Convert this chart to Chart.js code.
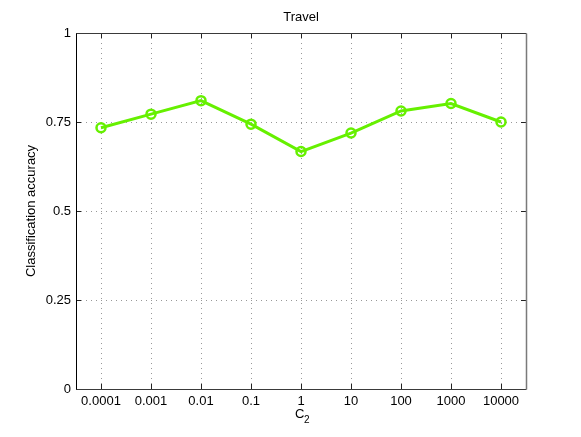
<!DOCTYPE html>
<html>
<head>
<meta charset="utf-8">
<title>Travel</title>
<script src="https://cdn.jsdelivr.net/npm/chart.js@4.4.0/dist/chart.umd.min.js"></script>
<style>
    html, body { margin: 0; padding: 0; background: #fff; }
    #chart { display: block; }
</style>
</head>
<body>
<canvas id="chart" width="581" height="437"></canvas>
<script>
// ========== Data ==========
const categories = ['0.0001', '0.001', '0.01', '0.1', '1', '10', '100', '1000', '10000'];
const accuracy = [0.734, 0.772, 0.810, 0.744, 0.667, 0.719, 0.781, 0.802, 0.750];
const yTicks = [0, 0.25, 0.5, 0.75, 1];
const yTickLabels = ['0', '0.25', '0.5', '0.75', '1'];

const FONT = "'Liberation Sans', Arial, sans-serif";
const LINE_GREEN = '#66f000';

// ========== Frame, inward ticks, title and x label (MATLAB style) ==========
const boxPlugin = {
    id: 'boxPlugin',
    afterDraw(chart) {
        const { ctx, chartArea: a, scales } = chart;
        const len = 5;
        ctx.save();
        ctx.lineWidth = 1;
        ctx.strokeStyle = '#222';

        // tick marks pointing inward
        ctx.beginPath();
        scales.x.ticks.forEach((t, i) => {
            const px = Math.round(scales.x.getPixelForTick(i)) + 0.5;
            ctx.moveTo(px, a.bottom); ctx.lineTo(px, a.bottom - len);
            ctx.moveTo(px, a.top); ctx.lineTo(px, a.top + len);
        });
        yTicks.forEach(v => {
            const py = Math.round(scales.y.getPixelForValue(v)) + 0.5;
            ctx.moveTo(a.left, py); ctx.lineTo(a.left + len, py);
            ctx.moveTo(a.right, py); ctx.lineTo(a.right - len, py);
        });
        ctx.stroke();

        // box
        const l = Math.round(a.left) + 0.5, r = Math.round(a.right) + 0.5;
        const t = Math.round(a.top) + 0.5, b = Math.round(a.bottom) + 0.5;
        ctx.strokeStyle = '#000';
        ctx.beginPath(); ctx.moveTo(l, t); ctx.lineTo(l, b); ctx.stroke();
        ctx.strokeStyle = '#3a3a3a';
        ctx.beginPath(); ctx.moveTo(l, b); ctx.lineTo(r, b); ctx.stroke();
        ctx.beginPath(); ctx.moveTo(l, t); ctx.lineTo(r, t); ctx.stroke();
        ctx.strokeStyle = '#7a7a7a';
        ctx.lineWidth = 1.5;
        ctx.beginPath(); ctx.moveTo(r, t); ctx.lineTo(r, b); ctx.stroke();

        // title centred over the axes
        const cx = (a.left + a.right) / 2;
        ctx.fillStyle = '#000';
        ctx.textAlign = 'center';
        ctx.textBaseline = 'middle';
        ctx.font = '13px ' + FONT;
        ctx.fillText('Travel', cx, 17);

        // x label: C with subscript 2
        ctx.textAlign = 'left';
        ctx.fillText('C', cx - 6, 414);
        ctx.font = '10px ' + FONT;
        ctx.fillText('2', cx + 3, 420);
        ctx.restore();
    }
};

// ========== Chart ==========
new Chart(document.getElementById('chart'), {
    type: 'line',
    data: {
        labels: categories,
        datasets: [{
            label: 'Travel',
            data: accuracy,
            borderColor: LINE_GREEN,
            borderWidth: 3,
            pointRadius: 4.5,
            pointBorderWidth: 2.5,
            pointBorderColor: LINE_GREEN,
            pointBackgroundColor: 'rgba(0,0,0,0)',
            tension: 0,
            fill: false
        }]
    },
    options: {
        responsive: false,
        animation: false,
        layout: { padding: { left: 0, right: 55, top: 33, bottom: 0 } },
        plugins: {
            legend: { display: false },
            tooltip: { enabled: false },
            title: { display: false }
        },
        scales: {
            x: {
                offset: true,
                grid: {
                    display: true,
                    drawTicks: false,
                    offset: false,
                    color: 'rgba(0,0,0,0.4)',
                    lineWidth: 1
                },
                border: { display: false, dash: [1, 4] },
                ticks: {
                    color: '#000',
                    padding: 5,
                    maxRotation: 0,
                    autoSkip: false,
                    font: { family: FONT, size: 13 }
                },
                afterFit(scale) { scale.height = 48; }
            },
            y: {
                min: 0,
                max: 1,
                afterBuildTicks(scale) {
                    scale.ticks = yTicks.map(v => ({ value: v }));
                },
                grid: {
                    drawTicks: false,
                    color: 'rgba(0,0,0,0.4)',
                    lineWidth: 1
                },
                border: { display: false, dash: [1, 4] },
                ticks: {
                    color: '#000',
                    padding: 5,
                    font: { family: FONT, size: 13 },
                    callback: (v) => yTickLabels[yTicks.indexOf(v)]
                },
                title: {
                    display: true,
                    text: 'Classification accuracy',
                    color: '#000',
                    font: { family: FONT, size: 13 },
                    padding: 24
                },
                afterFit(scale) { scale.width = 76; }
            }
        }
    },
    plugins: [boxPlugin]
});
</script>
</body>
</html>
